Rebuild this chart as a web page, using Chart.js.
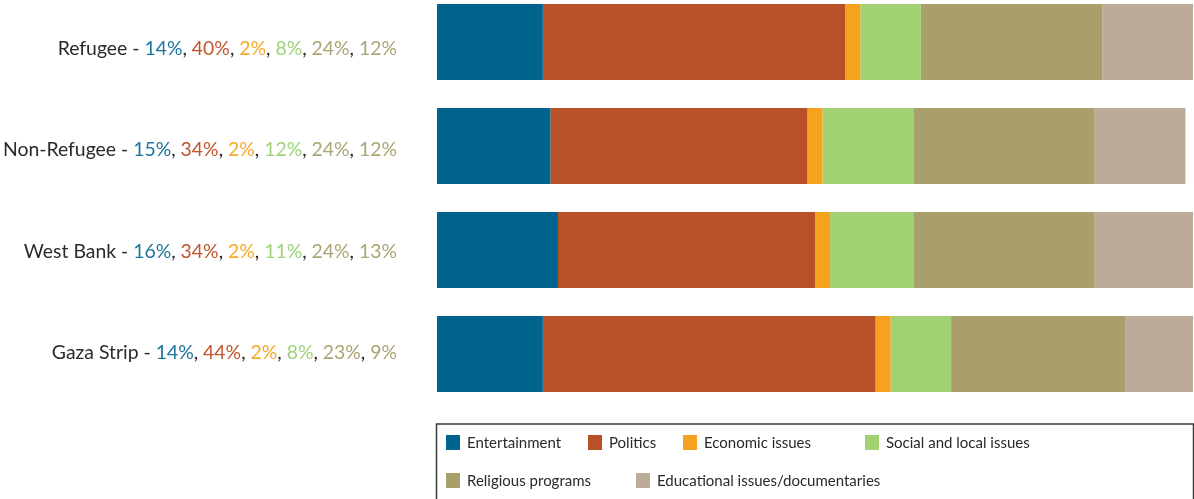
<!DOCTYPE html>
<html>
<head>
<meta charset="utf-8">
<script src="https://cdn.jsdelivr.net/npm/chart.js@4"></script>
<style>
  html, body { margin: 0; padding: 0; background: #fff; overflow: hidden; }
  #wrap { position: absolute; left: 0; top: -10px; width: 1194px; height: 509px; }
</style>
</head>
<body>
<div id="wrap"><canvas id="viewChart"></canvas></div>
<script>
// groups and programme types
var categories = ['Refugee', 'Non-Refugee', 'West Bank', 'Gaza Strip'];
var seriesNames = ['Entertainment', 'Politics', 'Economic issues', 'Social and local issues',
                   'Religious programs', 'Educational issues/documentaries'];

// share of viewers (%) per group
var entertainment = [14, 15, 16, 14];
var politics      = [40, 34, 34, 44];
var economic      = [2, 2, 2, 2];
var social        = [8, 12, 11, 8];
var religious     = [24, 24, 24, 23];
var educational   = [12, 12, 13, 9];

var seriesValues = [entertainment, politics, economic, social, religious, educational];
var colors = ['#00648c', '#b85028', '#f5a31e', '#a1d171', '#a89f6b', '#bcab98'];
var labelColors = ['#1c759e', '#c0552e', '#f7a828', '#9fd27a', '#ada474', '#ada474'];
var textColor = '#2b2a29';

// legend layout: [row, swatch x]
var legendSlots = [[0, 446], [0, 588], [0, 683], [0, 865], [1, 446], [1, 636]];

var datasets = seriesNames.map(function (name, j) {
  return {
    label: name,
    data: seriesValues[j],
    backgroundColor: colors[j],
    borderWidth: 0,
    barPercentage: 0.73,
    categoryPercentage: 1
  };
});

// coloured "name - a%, b%, ..." labels left of each bar
var rowLabels = {
  id: 'rowLabels',
  afterDraw: function (chart) {
    var ctx = chart.ctx;
    var y = chart.scales.y;
    ctx.save();
    ctx.font = '19.4px Lato';
    ctx.textBaseline = 'middle';
    ctx.textAlign = 'left';
    categories.forEach(function (cat, i) {
      var parts = [[cat + ' - ', textColor]];
      seriesValues.forEach(function (vals, j) {
        parts.push([vals[i] + '%', labelColors[j]]);
        if (j < seriesValues.length - 1) parts.push([', ', textColor]);
      });
      var total = parts.reduce(function (w, p) { return w + ctx.measureText(p[0]).width; }, 0);
      var x = 397 - total;
      var py = y.getPixelForValue(i) + 7 - 2.8 * i;
      parts.forEach(function (p) {
        ctx.fillStyle = p[1];
        ctx.fillText(p[0], x, py);
        x += ctx.measureText(p[0]).width;
      });
    });
    ctx.restore();
  }
};

// boxed legend under the bars
var boxLegend = {
  id: 'boxLegend',
  afterDraw: function (chart) {
    var ctx = chart.ctx;
    var area = chart.chartArea;
    var top = 434;
    ctx.save();
    ctx.strokeStyle = '#3a3a3a';
    ctx.lineWidth = 1.5;
    ctx.strokeRect(area.left - 0.5, top, area.right - area.left + 1, 100);
    ctx.font = '15px Lato';
    ctx.textBaseline = 'middle';
    chart.data.datasets.forEach(function (ds, j) {
      var slot = legendSlots[j];
      var cy = top + 19 + slot[0] * 38;
      ctx.fillStyle = ds.backgroundColor;
      ctx.fillRect(slot[1], cy - 8, 14, 15);
      ctx.fillStyle = textColor;
      ctx.fillText(ds.label, slot[1] + 21, cy);
    });
    ctx.restore();
  }
};

new Chart(document.getElementById('viewChart'), {
  type: 'bar',
  data: { labels: categories, datasets: datasets },
  options: {
    indexAxis: 'y',
    responsive: true,
    maintainAspectRatio: false,
    animation: false,
    layout: { padding: { left: 437, right: 1, top: 0, bottom: 93 } },
    scales: {
      x: { stacked: true, min: 0, max: 100, display: false },
      y: { stacked: true, display: false }
    },
    plugins: {
      legend: { display: false },
      tooltip: { enabled: false }
    }
  },
  plugins: [rowLabels, boxLegend]
});
</script>
</body>
</html>
